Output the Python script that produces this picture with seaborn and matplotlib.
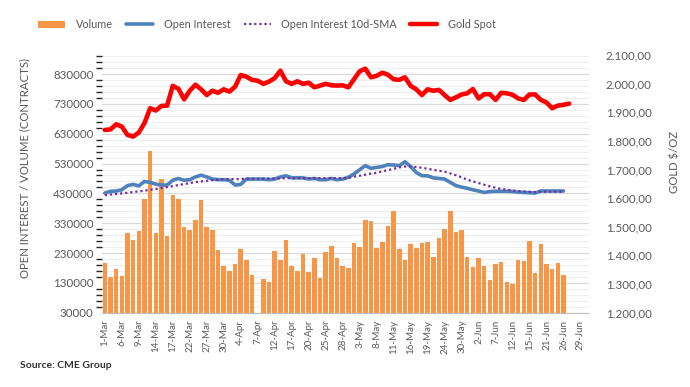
import numpy as np
import pandas as pd
import matplotlib
matplotlib.use("Agg")
import matplotlib.pyplot as plt
from matplotlib.patches import Patch
from matplotlib.lines import Line2D
from matplotlib.ticker import FuncFormatter, MultipleLocator
import seaborn as sns

# ---------------- data ----------------
N_CATEGORIES = 86  # trading days 1-Mar .. 30-Jun
tick_labels = ["1-Mar", "6-Mar", "9-Mar", "14-Mar", "17-Mar", "22-Mar", "27-Mar", "30-Mar",
               "4-Apr", "7-Apr", "12-Apr", "17-Apr", "20-Apr", "25-Apr", "28-Apr", "3-May",
               "8-May", "11-May", "16-May", "19-May", "24-May", "30-May", "2-Jun", "7-Jun",
               "12-Jun", "15-Jun", "21-Jun", "26-Jun", "29-Jun"]

volume = [197000, 150000, 176000, 153000, 297000, 274000, 304000, 411000, 572000, 297000,
          478000, 287000, 424000, 411000, 317000, 307000, 341000, 408000, 317000, 307000,
          240000, 186000, 170000, 193000, 243000, 207000, 156000, None, 143000, 133000,
          237000, 207000, 274000, 186000, 170000, 227000, 166000, 213000, 146000, 233000,
          254000, 213000, 186000, 180000, 264000, 250000, 341000, 337000, 247000, 267000,
          321000, 371000, 243000, 207000, 260000, 247000, 264000, 267000, 217000, 280000,
          310000, 371000, 300000, 307000, 217000, 183000, 213000, 186000, 140000, 193000,
          200000, 133000, 126000, 207000, 203000, 270000, 163000, 260000, 193000, 176000,
          197000, 156000]

open_interest = [431000, 437000, 438000, 442000, 456000, 460000, 455000, 470000, 467000, 461000,
                 458000, 458000, 474000, 480000, 474000, 476000, 485000, 491000, 485000, 478000,
                 476000, 476000, 474000, 458000, 460000, 478000, 478000, 478000, 478000, 476000,
                 478000, 485000, 489000, 482000, 482000, 482000, 478000, 480000, 476000, 476000,
                 480000, 476000, 478000, 484000, 495000, 509000, 523000, 514000, 517000, 520000,
                 526000, 525000, 523000, 536000, 520000, 500000, 489000, 489000, 482000, 480000,
                 478000, 467000, 456000, 451000, 447000, 442000, 438000, 433000, 436000, 437000,
                 437000, 437000, 436000, 434000, 433000, 432000, 431000, 438000, 438000, 438000,
                 438000, 438000]

oi_sma10 = [424000, 426000, 428000, 430000, 432000, 434500, 437000, 439000, 442000, 444500,
            448000, 451000, 454500, 458000, 461000, 464500, 468000, 470000, 472000, 474700,
            476000, 477000, 478000, 478000, 478000, 479000, 479000, 479000, 479000, 480000,
            480000, 480000, 481000, 481000, 481000, 481000, 481000, 481000, 481000, 481000,
            481000, 481000, 480000, 482000, 486000, 489000, 492500, 496000, 499000, 504000,
            508000, 512500, 517000, 520000, 520000, 518000, 516000, 512500, 509000, 506000,
            502600, 497000, 491000, 483600, 476000, 470000, 464600, 459000, 453500, 449000,
            444500, 442300, 440000, 437800, 436700, 435600, 434500, 435600, 435600, 435600,
            435600, 435600]

gold_spot = [1838, 1840, 1858, 1850, 1821, 1815, 1829, 1862, 1914, 1906,
             1922, 1923, 1992, 1982, 1945, 1975, 1996, 1980, 1960, 1975,
             1968, 1980, 1972, 1989, 2030, 2024, 2013, 2010, 1999, 2007,
             2019, 2045, 2008, 1999, 2008, 1999, 2003, 1987, 1993, 1999,
             1994, 1993, 1994, 1987, 2015, 2043, 2052, 2022, 2027, 2038,
             2031, 2015, 2013, 2022, 1992, 1980, 1960, 1980, 1975, 1978,
             1960, 1943, 1952, 1962, 1966, 1981, 1948, 1963, 1963, 1943,
             1968, 1966, 1961, 1948, 1943, 1962, 1962, 1943, 1934, 1914,
             1923, 1926, 1930]

# ---------------- styling ----------------
sns.set_theme(style="white")
plt.rcParams['font.family'] = ['Lato', 'DejaVu Sans']
TXT = "#595959"
ORANGE = "#F79646"
BLUE = "#4F81BD"
PURPLE = "#7030A0"
RED = "#FF0000"

df_v = pd.DataFrame({"pos": np.arange(len(volume)),
                     "volume": pd.to_numeric(pd.Series(volume), errors="coerce")})
df_oi = pd.DataFrame({"pos": np.arange(len(open_interest)), "oi": open_interest})
df_sma = pd.DataFrame({"pos": np.arange(len(oi_sma10)), "sma": oi_sma10})
df_g = pd.DataFrame({"pos": np.arange(len(gold_spot)), "gold": gold_spot})

fig = plt.figure(figsize=(6.9, 3.87), dpi=100)
ax = fig.add_axes([0.1478, 0.192, 0.7058, 0.666])

# grid
ax.set_ylim(30000, 894000)
ax.yaxis.set_minor_locator(MultipleLocator(20000, offset=30000))
ax.set_yticks(np.arange(30000, 830001, 100000))
ax.grid(which="major", axis="y", color="#d9d9d9", lw=0.9)
ax.grid(which="minor", axis="y", color="#eeeeee", lw=0.8)
ax.set_axisbelow(True)

sns.barplot(data=df_v.dropna(), x="pos", y="volume", native_scale=True, width=0.8,
            color=ORANGE, saturation=1, ax=ax, zorder=2, linewidth=0)
sns.lineplot(data=df_oi, x="pos", y="oi", ax=ax, color=BLUE, lw=2.6, zorder=3)
sns.lineplot(data=df_sma, x="pos", y="sma", ax=ax, color=PURPLE, lw=1.6, zorder=4,
             linestyle=(0, (1, 1.3)))

ax.set_xlim(-0.5, N_CATEGORIES - 0.5)
ax.set_ylim(30000, 894000)
tick_pos = np.arange(0, len(tick_labels) * 3, 3)
ax.set_xticks(tick_pos)
ax.set_xticklabels(tick_labels, rotation=90, fontsize=7, color=TXT)
ax.tick_params(axis="x", length=3, color="#bfbfbf", pad=2)
ax.tick_params(axis="y", length=0, labelsize=8.3, labelcolor=TXT, pad=6)
ax.set_xlabel("")
ax.set_ylabel("OPEN INTEREST / VOLUME (CONTRACTS)", fontsize=8.2, color=TXT)
ax.yaxis.set_label_coords(-0.147, 0.562)
for s in ["top", "right", "left"]:
    ax.spines[s].set_visible(False)
ax.spines["bottom"].set_color("#bfbfbf")
ax.spines["bottom"].set_linewidth(0.8)

ax2 = ax.twinx()
sns.lineplot(data=df_g, x="pos", y="gold", ax=ax2, color=RED, lw=3.3, zorder=5)
ax2.set_ylim(1200, 2100)
ax2.set_yticks(np.arange(1200, 2101, 100))
ax2.yaxis.set_major_formatter(FuncFormatter(
    lambda v, p: f"{v:,.2f}".replace(",", "X").replace(".", ",").replace("X", ".")))
ax2.tick_params(axis="y", length=0, labelsize=8.3, labelcolor=TXT, pad=12)
ax2.set_ylabel("GOLD $/OZ", fontsize=8.2, color=TXT)
ax2.yaxis.set_label_coords(1.165, 0.583)
ax2.grid(False)
for s in ["top", "right", "left", "bottom"]:
    ax2.spines[s].set_visible(False)
ax2.set_xlim(-0.5, N_CATEGORIES - 0.5)

handles = [Patch(facecolor=ORANGE, edgecolor="none"),
           Line2D([0], [0], color=BLUE, lw=2.6),
           Line2D([0], [0], color=PURPLE, lw=1.6, linestyle=(0, (1, 1.3))),
           Line2D([0], [0], color=RED, lw=3.2)]
labels = ["Volume", "Open Interest", "Open Interest 10d-SMA", "Gold Spot"]
fig.legend(handles, labels, loc="center", bbox_to_anchor=(0.387, 0.937), ncol=4,
           frameon=False, fontsize=7.8, labelcolor=TXT, handlelength=2.5,
           columnspacing=1.2, handletextpad=1.0, handleheight=0.6)

fig.text(0.029, 0.05, "Source: CME Group", fontsize=7.5, fontweight="bold", color="#333333")

fig.savefig("out.png", dpi=100)
